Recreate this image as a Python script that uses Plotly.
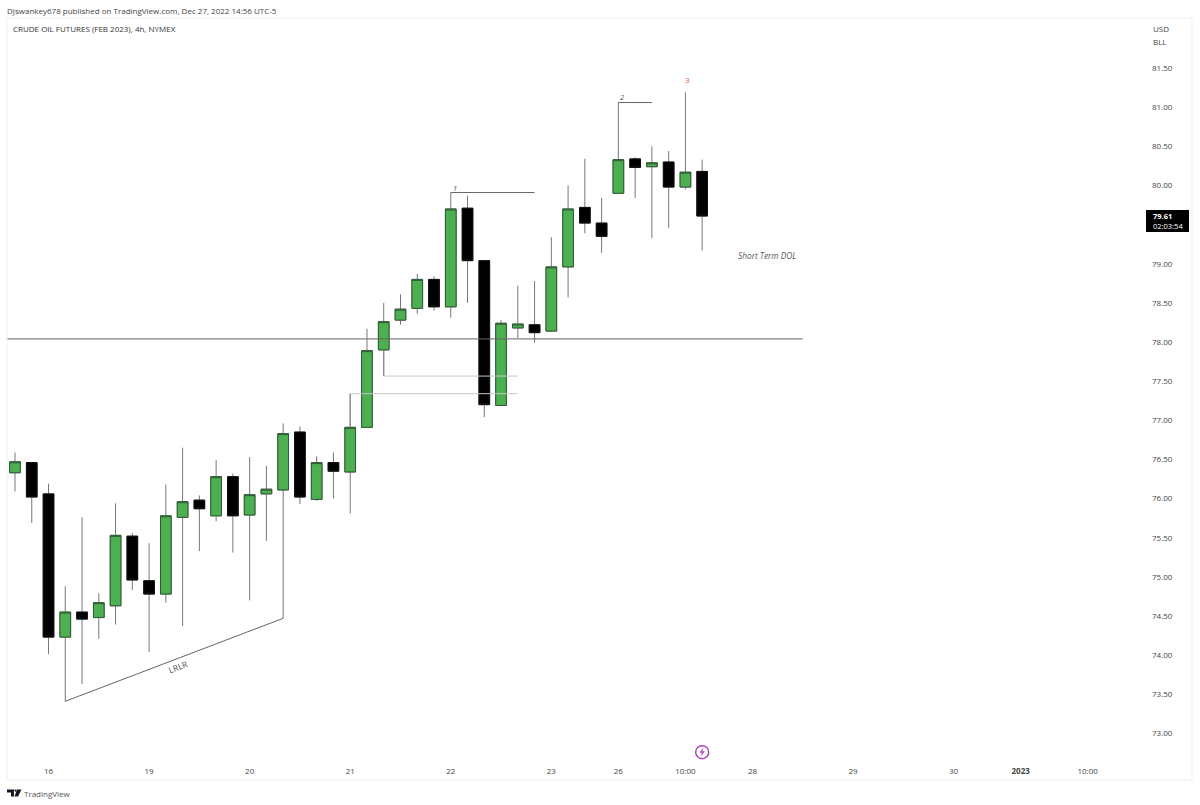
import plotly.graph_objects as go

bar_index = list(range(42))
open_ = [76.33,76.46,76.06,74.23,74.55,74.48,74.63,75.52,74.95,74.78,75.76,75.98,75.78,76.28,75.79,76.06,76.11,76.85,75.99,76.46,76.34,76.91,77.90,78.28,78.43,78.80,78.45,79.71,79.04,77.19,78.18,78.22,78.14,78.96,79.72,79.52,79.90,80.34,80.24,80.30,79.98,80.18]
high = [76.59,76.46,76.19,74.88,75.76,74.79,75.94,75.56,75.43,76.18,76.65,76.04,76.49,76.32,76.53,76.42,76.96,76.92,76.54,76.59,77.34,78.17,78.50,78.61,78.87,78.84,79.91,79.87,79.04,78.28,78.72,78.78,79.34,80.00,80.34,79.84,81.06,80.36,80.50,80.44,81.19,80.33]
low = [76.09,75.69,74.01,73.41,73.63,74.21,74.39,74.83,74.04,74.67,74.37,75.33,75.71,75.31,74.70,75.46,74.47,75.93,75.97,76.00,75.81,76.91,77.57,78.22,78.36,78.40,78.31,78.50,77.04,77.18,78.05,77.99,78.13,78.57,79.39,79.14,79.90,79.84,79.33,79.46,79.95,79.17]
close = [76.47,76.02,74.23,74.55,74.46,74.67,75.53,74.96,74.78,75.78,75.96,75.87,76.28,75.78,76.05,76.12,76.83,76.02,76.46,76.35,76.91,77.89,78.26,78.42,78.80,78.45,79.70,79.04,77.20,78.24,78.23,78.12,78.96,79.70,79.52,79.35,80.33,80.23,80.29,79.98,80.17,79.61]

x_tick_pos = [2,8,14,20,26,32,36,40,44,50,56,60,64]
x_tick_text = ["16","19","20","21","22","23","26","10:00","28","29","30","<b>2023</b>","10:00"]
y_ticks = [73.0,73.5,74.0,74.5,75.0,75.5,76.0,76.5,77.0,77.5,78.0,78.5,79.0,80.0,80.5,81.0,81.5]

level_x, level_y = [-0.5,47], [78.04,78.04]
fvg1_x, fvg1_y = [22,22,30], [77.89,77.565,77.565]
fvg2_x, fvg2_y = [20,20,30], [76.91,77.34,77.34]
trend_x, trend_y = [3,16], [73.41,74.47]
swing1_x, swing1_y = [26,31], [79.91,79.91]
swing2_x, swing2_y = [36,38], [81.06,81.06]
last_price = 79.61
countdown = "02:03:54"

W, H = 1200, 805
L, R, T, B = 7, 1147, 18, 760
def px(x): return (x - L) / (R - L)
def py(y): return (B - y) / (B - T)

FONT = "Open Sans"
fig = go.Figure()

def seg(x, y, color, width=1, dash="solid"):
    fig.add_trace(go.Scatter(x=x, y=y, mode="lines", line=dict(color=color, width=width, dash=dash),
                             hoverinfo="skip", showlegend=False))

seg(level_x, level_y, "#666666")
seg(fvg1_x[:2], fvg1_y[:2], "#888888")
seg(fvg1_x[1:], fvg1_y[1:], "#c8c8c8")
seg(fvg2_x[:2], fvg2_y[:2], "#888888")
seg(fvg2_x[1:], fvg2_y[1:], "#c8c8c8")
seg(trend_x, trend_y, "#666666")
seg(swing1_x, swing1_y, "#666666")
seg(swing2_x, swing2_y, "#666666")

# wicks first, in grey; bodies on top with their darker outline
fig.add_trace(go.Candlestick(
    x=bar_index, open=open_, high=high, low=low, close=close,
    increasing=dict(fillcolor="#4caf50", line=dict(color="#777777", width=1)),
    decreasing=dict(fillcolor="#000000", line=dict(color="#777777", width=1)),
    whiskerwidth=0, showlegend=False))
fig.add_trace(go.Candlestick(
    x=bar_index, open=open_, close=close,
    high=[max(a, b) for a, b in zip(open_, close)], low=[min(a, b) for a, b in zip(open_, close)],
    increasing=dict(fillcolor="#4caf50", line=dict(color="#2f5a36", width=1)),
    decreasing=dict(fillcolor="#000000", line=dict(color="#111111", width=1)),
    whiskerwidth=0, showlegend=False))

# session-break marker
fig.add_trace(go.Scatter(x=[41], y=[72.76], mode="markers",
                         marker=dict(symbol="circle-open", size=13, color="#ab47bc", line=dict(width=1.5, color="#ab47bc")),
                         hoverinfo="skip", showlegend=False, cliponaxis=False))

def note(text, x, y, size=8, color="#555", xref="paper", yref="paper", **kw):
    fig.add_annotation(text=text, x=x, y=y, xref=xref, yref=yref, showarrow=False, yanchor="middle",
                       font=dict(family=FONT, size=size, color=color), **kw)

# frame, price tag, bolt and logo
fig.add_shape(type="rect", xref="paper", yref="paper", x0=px(7), x1=px(1192), y0=py(18), y1=py(780),
              line=dict(color="#efefef", width=1), fillcolor="rgba(0,0,0,0)")
fig.add_shape(type="rect", xref="paper", yref="paper", x0=px(1146), x1=px(1189), y0=py(210), y1=py(232),
              line=dict(width=0), fillcolor="#000000")
def poly(points):
    return "M " + " L ".join("%f %f" % (px(a), py(b)) for a, b in points) + " Z"
for pts in ([(703.5,747.5),(699.5,752.8),(702,752.8),(700.8,756.5),(704.8,751.2),(702.3,751.2)],
            [(7,789.5),(14,789.5),(14,796.5),(11,796.5),(11,792.5),(7,792.5)],
            [(17,789.5),(21.5,789.5),(18,796.5),(14.5,796.5)]):
    color = "#ab47bc" if pts[0][0] > 100 else "#131722"
    fig.add_shape(type="path", xref="paper", yref="paper", path=poly(pts), fillcolor=color, line=dict(width=0))
fig.add_shape(type="circle", xref="paper", yref="paper", x0=px(14.4), x1=px(16.6), y0=py(789.5), y1=py(791.7),
              fillcolor="#131722", line=dict(width=0))

note("DJswankey678 published on TradingView.com, Dec 27, 2022 14:56 UTC-5", px(5), py(10), xanchor="left", color="#444")
note("CRUDE OIL FUTURES (FEB 2023), 4h, NYMEX", px(11), py(29), xanchor="left", color="#333")
note("USD", px(1151), py(28), xanchor="left", color="#444")
note("BLL", px(1151), py(41), xanchor="left", color="#444")
note("TradingView", px(22), py(793), xanchor="left", color="#555")
note("LRLR", 9.75, 73.86, size=8.5, color="#555", xref="x", yref="y", textangle=-21)
note("<i>1</i>", 26.25, 79.97, size=7.5, xref="x", yref="y")
note("<i>2</i>", 36.2, 81.13, size=7.5, xref="x", yref="y")
note("3", 40.15, 81.36, size=8, color="#ef5350", xref="x", yref="y")
note("<i>Short Term DOL</i>", 44.87, 79.10, size=8.3, xref="x", yref="y")
note("<b>%.2f</b><br>%s" % (last_price, countdown), px(1151), py(221), size=7.5, color="#ffffff",
     xanchor="left", align="left")

fig.update_layout(
    width=W, height=H, autosize=False, paper_bgcolor="white", plot_bgcolor="white",
    margin=dict(l=L, r=W-R, t=T, b=H-B), boxgap=0.09, boxmode="overlay", showlegend=False, dragmode=False,
    font=dict(family=FONT, size=8, color="#444"),
    xaxis=dict(range=[-0.477, 67.54], tickmode="array", tickvals=x_tick_pos, ticktext=x_tick_text,
               showgrid=False, zeroline=False, showline=False, ticks="", rangeslider=dict(visible=False),
               tickfont=dict(size=8, color="#444"), ticklabelstandoff=5),
    yaxis=dict(side="right", range=[72.66, 82.14], tickmode="array", tickvals=y_ticks,
               ticktext=["%.2f" % v for v in y_ticks], showgrid=False, zeroline=False, showline=False,
               ticks="", tickfont=dict(size=8, color="#444"), ticklabelstandoff=4),
)
fig.write_html("out.html", post_script="document.body.style.margin='0';", config=dict(displayModeBar=False))
